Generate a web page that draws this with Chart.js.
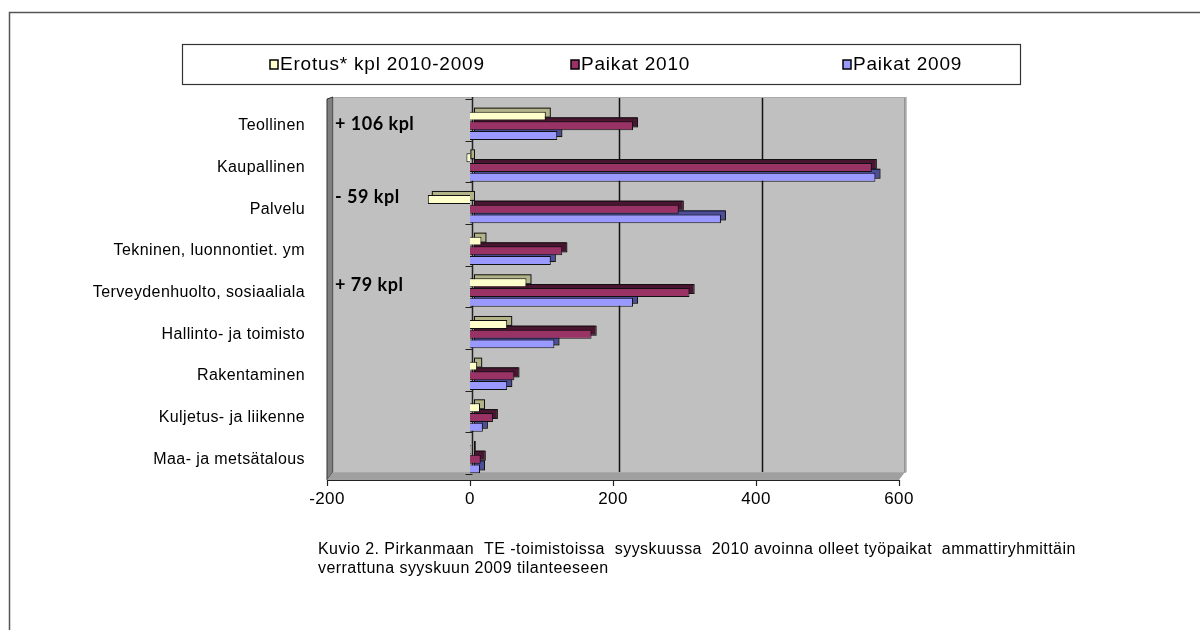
<!DOCTYPE html>
<html>
<head>
<meta charset="utf-8">
<script src="https://cdn.jsdelivr.net/npm/chart.js@4.4.1/dist/chart.umd.min.js"></script>
<style>
  html, body { margin: 0; padding: 0; background: #fff; }
</style>
</head>
<body>
<canvas id="chart" width="1200" height="630"></canvas>
<script>
// data
const categories = [
  "Teollinen",
  "Kaupallinen",
  "Palvelu",
  "Tekninen, luonnontiet. ym",
  "Terveydenhuolto, sosiaaliala",
  "Hallinto- ja toimisto",
  "Rakentaminen",
  "Kuljetus- ja liikenne",
  "Maa- ja metsätalous"
];
const seriesNames = ["Erotus* kpl 2010-2009", "Paikat 2010", "Paikat 2009"];
const erotus     = [106, -5, -59, 16, 79, 52, 10, 14, 1];
const paikat2010 = [228, 562, 292, 129, 307, 170, 62, 32, 15];
const paikat2009 = [122, 567, 351, 113, 228, 118, 52, 18, 14];
const xTicks = [-200, 0, 200, 400, 600];
const noteCats  = [0, 2, 4];
const noteTexts = ["+ 106 kpl", "- 59 kpl", "+ 79 kpl"];
const caption = [
  "Kuvio 2. Pirkanmaan  TE -toimistoissa  syyskuussa  2010 avoinna olleet työpaikat  ammattiryhmittäin",
  "verrattuna syyskuun 2009 tilanteeseen"
];

const FONT = "'Liberation Sans', Arial, sans-serif";
const DEPTH = 4;

// back wall, side wall, floor, grid lines
const backdrop = {
  id: "backdrop",
  beforeDraw(chart) {
    const { ctx, chartArea: a, scales } = chart;
    const xs = scales.x;
    const dx = 6, dy = 8;
    ctx.save();
    ctx.fillStyle = "#fff";
    ctx.fillRect(0, 0, chart.width, chart.height);

    // outer frame
    ctx.strokeStyle = "#555";
    ctx.lineWidth = 1.5;
    ctx.strokeRect(9.5, 12.5, 1220, 640);

    // back wall
    ctx.fillStyle = "#c0c0c0";
    ctx.fillRect(a.left + dx, a.top - dy, a.right - a.left, a.bottom - a.top);
    // left side wall
    ctx.fillStyle = "#808080";
    ctx.beginPath();
    ctx.moveTo(a.left, a.top - dy + 2);
    ctx.lineTo(a.left + dx, a.top - dy);
    ctx.lineTo(a.left + dx, a.bottom - dy);
    ctx.lineTo(a.left, a.bottom);
    ctx.closePath();
    ctx.fill();
    ctx.strokeStyle = "#333";
    ctx.lineWidth = 1;
    ctx.stroke();
    // floor
    ctx.fillStyle = "#a0a0a0";
    ctx.beginPath();
    ctx.moveTo(a.left, a.bottom);
    ctx.lineTo(a.left + dx, a.bottom - dy);
    ctx.lineTo(a.right + dx, a.bottom - dy);
    ctx.lineTo(a.right, a.bottom);
    ctx.closePath();
    ctx.fill();

    // vertical grid lines on the back wall
    ctx.strokeStyle = "#111";
    ctx.lineWidth = 1.5;
    xTicks.forEach(v => {
      if (v <= 0) return;
      const px = Math.round(xs.getPixelForValue(v)) + dx + 0.5;
      ctx.beginPath();
      ctx.moveTo(px, a.top - dy);
      ctx.lineTo(px, a.bottom - dy);
      ctx.stroke();
    });
    ctx.strokeStyle = "#aaa";
    ctx.lineWidth = 1;
    ctx.strokeRect(a.left + dx + 0.5, a.top - dy + 0.5, a.right - a.left, a.bottom - a.top);

    // value axis at zero with category ticks
    const zx = Math.round(xs.getPixelForValue(0)) + 0.5;
    ctx.strokeStyle = "#222";
    ctx.lineWidth = 1.5;
    ctx.beginPath();
    ctx.moveTo(zx + 2, a.top - dy);
    ctx.lineTo(zx + 2, a.bottom - dy);
    ctx.stroke();
    ctx.lineWidth = 1;
    for (let i = 0; i <= categories.length; i++) {
      const py = Math.round(a.top + (a.bottom - a.top) * i / categories.length) - dy + 2.5;
      ctx.beginPath();
      ctx.moveTo(zx - 5, py);
      ctx.lineTo(zx + 2, py);
      ctx.stroke();
    }

    // front axis line with ticks
    ctx.strokeStyle = "#222";
    ctx.lineWidth = 1.2;
    ctx.beginPath();
    ctx.moveTo(a.left, a.bottom + 0.5);
    ctx.lineTo(a.right, a.bottom + 0.5);
    ctx.stroke();
    xTicks.forEach(v => {
      const px = Math.round(xs.getPixelForValue(v)) + 0.5;
      ctx.beginPath();
      ctx.moveTo(px, a.bottom);
      ctx.lineTo(px, a.bottom + 6);
      ctx.stroke();
    });
    ctx.restore();
    // the old GDI text is loosely spaced; applies to the axis labels too
    ctx.letterSpacing = "0.4px";
  }
};

// fake 3D depth behind each bar
const depth = {
  id: "depth",
  beforeDatasetsDraw(chart) {
    const ctx = chart.ctx;
    ctx.save();
    chart.data.datasets.forEach((ds, i) => {
      chart.getDatasetMeta(i).data.forEach(bar => {
        const p = bar.getProps(["x", "y", "base", "height"], true);
        const l = Math.min(p.x, p.base), r = Math.max(p.x, p.base);
        const t = p.y - p.height / 2;
        ctx.fillStyle = ds.sideColor;
        ctx.strokeStyle = "#111";
        ctx.lineWidth = 1;
        ctx.fillRect(l + DEPTH, t - DEPTH, r - l, p.height);
        ctx.strokeRect(l + DEPTH + 0.5, t - DEPTH + 0.5, r - l, p.height);
      });
    });
    ctx.restore();
  }
};

// legend box, notes, caption
const extras = {
  id: "extras",
  afterDraw(chart) {
    const { ctx, chartArea: a, scales } = chart;
    ctx.save();
    // legend
    ctx.fillStyle = "#fff";
    ctx.fillRect(182, 44, 838, 40);
    ctx.strokeStyle = "#333";
    ctx.lineWidth = 1.2;
    ctx.strokeRect(182.5, 44.5, 838, 40);
    const itemX = [270, 571, 843];
    ctx.font = "19px " + FONT;
    ctx.letterSpacing = "0.8px";
    ctx.textBaseline = "middle";
    chart.data.datasets.forEach((ds, i) => {
      ctx.fillStyle = ds.backgroundColor;
      ctx.fillRect(itemX[i], 60, 8, 9);
      ctx.strokeStyle = "#000";
      ctx.lineWidth = 1.5;
      ctx.strokeRect(itemX[i], 60, 8, 9);
      ctx.fillStyle = "#000";
      ctx.fillText(ds.label, itemX[i] + 10, 65);
    });
    // notes beside the bars
    const noteShift = [-2, -12, -7];
    ctx.font = "bold 18px Lato, 'Open Sans', sans-serif";
    ctx.letterSpacing = "0.5px";
    noteCats.forEach((c, i) => {
      ctx.fillText(noteTexts[i], a.left + 8, scales.y.getPixelForValue(c) + noteShift[i]);
    });
    // caption
    ctx.font = "16px " + FONT;
    ctx.letterSpacing = "0.45px";
    ctx.textBaseline = "alphabetic";
    caption.forEach((line, i) => ctx.fillText(line, 318, 554 + i * 19));
    ctx.restore();
  }
};

new Chart(document.getElementById("chart"), {
  type: "bar",
  data: {
    labels: categories,
    datasets: [
      { label: seriesNames[0], data: erotus, backgroundColor: "#ffffcc", sideColor: "#b3b38a" },
      { label: seriesNames[1], data: paikat2010, backgroundColor: "#993366", sideColor: "#4a1530" },
      { label: seriesNames[2], data: paikat2009, backgroundColor: "#9999ff", sideColor: "#4d4d99" }
    ]
  },
  options: {
    indexAxis: "y",
    responsive: false,
    animation: false,
    devicePixelRatio: 1,
    datasets: {
      bar: {
        borderColor: "#111",
        borderWidth: 1,
        categoryPercentage: 0.7,
        barPercentage: 0.92
      }
    },
    layout: { padding: { left: 0, right: 301, top: 105, bottom: 110 } },
    plugins: { legend: { display: false }, tooltip: { enabled: false } },
    scales: {
      x: {
        min: -200,
        max: 600,
        afterBuildTicks: s => { s.ticks = xTicks.map(v => ({ value: v })); },
        afterFit: s => { s.height = 40; },
        grid: { display: false, drawTicks: false },
        border: { display: false },
        ticks: { color: "#000", font: { family: FONT, size: 17 }, padding: 9 }
      },
      y: {
        afterFit: s => { s.width = 327; },
        grid: { display: false, drawTicks: false },
        border: { display: false },
        ticks: { color: "#000", font: { family: FONT, size: 16 }, padding: 22 }
      }
    }
  },
  plugins: [backdrop, depth, extras]
});
</script>
</body>
</html>
